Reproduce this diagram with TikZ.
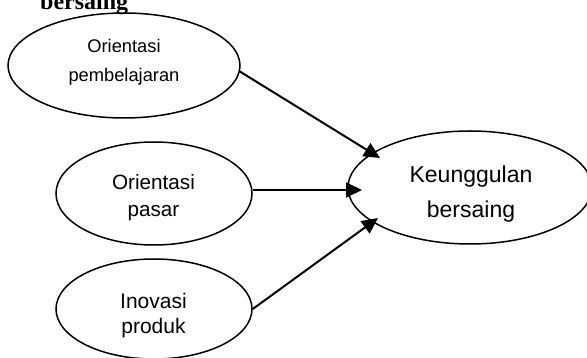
\documentclass[tikz,border=0pt]{standalone}
\usepackage{fontspec}
\setmainfont{Liberation Sans}
\newfontfamily\serifface{Liberation Serif}
\usetikzlibrary{arrows.meta,shapes.geometric,calc}
\begin{document}
\begin{tikzpicture}[x=1pt,y=-1pt,
  oval/.style={draw, ellipse, line width=1.5pt, inner sep=0pt},
  txt/.style={align=center, inner sep=0pt},
  arr/.style={line width=2pt, -{Triangle[length=16pt,width=15pt]}}]
\useasboundingbox (0,0) rectangle (587,358);
% cut-off heading text at the top
\node[anchor=base west, inner sep=0pt, font=\serifface\bfseries\fontsize{24}{28}\selectfont] (head) at (40,10) {bersaing};
% ellipses
\node[oval, minimum width=232pt, minimum height=105pt] (e1) at (124,65.5) {};
\node[oval, minimum width=196pt, minimum height=103pt] (e2) at (154,193.5) {};
\node[oval, minimum width=196pt, minimum height=100pt] (e3) at (154,309) {};
\node[oval, minimum width=244pt, minimum height=113pt] (e4) at (470,187.5) {};
% texts
\node[txt, font=\fontsize{18.3}{29}\selectfont] (l1) at (124,62.7) {Orientasi\\pembelajaran};
\node[txt, font=\fontsize{20.7}{27}\selectfont] (l2) at (153.5,198) {Orientasi\\pasar};
\node[txt, font=\fontsize{21}{25}\selectfont] (l3) at (153.5,315.5) {Inovasi\\produk};
\node[txt, font=\fontsize{23}{35}\selectfont] (l4) at (471,193.7) {Keunggulan\\bersaing};
% arrow tips (inside the target ellipse border)
\coordinate (t1) at (380,158);
\coordinate (t2) at (362,190);
\coordinate (t3) at (378,218);
\draw[arr] (e1.-3.5) -- (t1);
\draw[arr] (e2.east |- t2) -- (t2);
\draw[arr] (e3.east) -- (t3);
\end{tikzpicture}
\end{document}
